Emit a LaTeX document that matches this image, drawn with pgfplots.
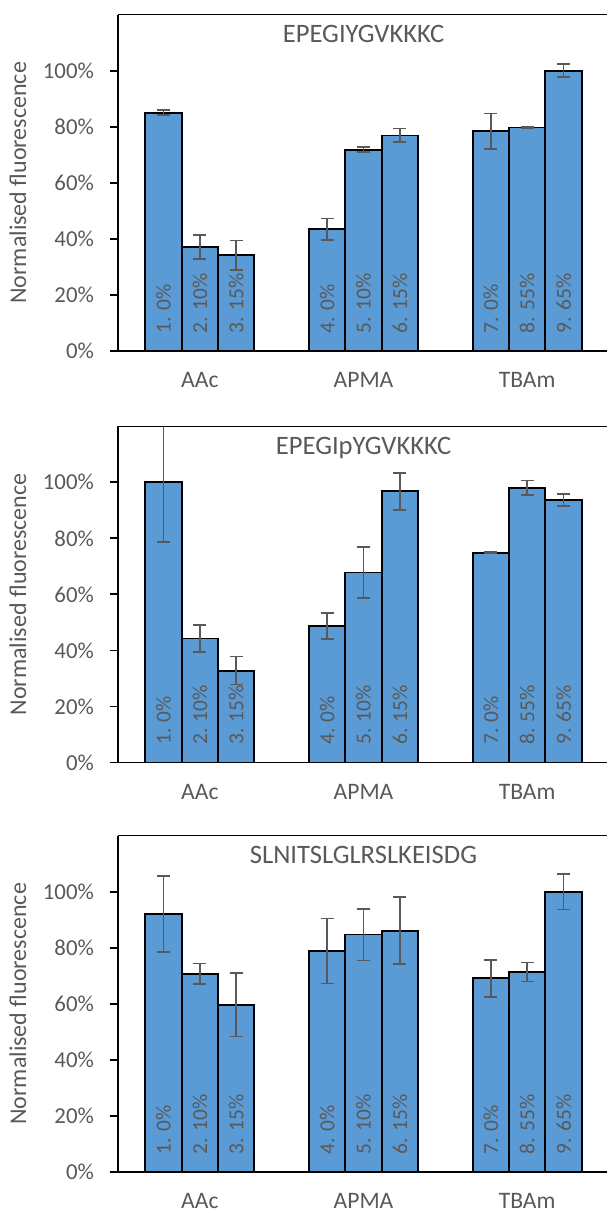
\documentclass[border=0pt]{standalone}
\usepackage{pgfplots}
\pgfplotsset{compat=1.18}
\usepackage{pgfplotstable}
\usepackage{fontspec}
\setmainfont{Carlito}
\definecolor{txtgrey}{HTML}{595959}
\definecolor{barblue}{HTML}{5B9BD5}

% x = bar centre (category units), y = value (%), err = error
\pgfplotstableread{
x y err
0.2778 85.0 0.9
0.5000 37.1 4.2
0.7222 34.1 5.3
1.2778 43.4 3.8
1.5000 71.8 0.9
1.7222 76.9 2.4
2.2778 78.4 6.3
2.5000 79.7 0.3
2.7222 100.0 2.3
}\dataA
\pgfplotstableread{
x y err
0.2778 100.0 21.3
0.5000 44.3 4.8
0.7222 32.8 5.0
1.2778 48.7 4.7
1.5000 67.8 9.0
1.7222 96.8 6.6
2.2778 74.9 0.3
2.5000 98.0 2.6
2.7222 93.7 2.2
}\dataB
\pgfplotstableread{
x y err
0.2778 92.0 13.5
0.5000 70.7 3.7
0.7222 59.6 11.3
1.2778 78.8 11.6
1.5000 84.7 9.2
1.7222 86.1 12.0
2.2778 69.1 6.6
2.5000 71.4 3.4
2.7222 100.0 6.4
}\dataC

% plot box runs from x=118px to the right edge of the picture (frame cut off there)
\pgfplotsset{panel/.style={
  scale only axis, width=244.5pt, height=168.2pt,
  anchor=south west,
  xmin=0, xmax=2.9878, ymin=0, ymax=120,
  axis x line*=bottom, axis y line*=left,
  axis line style={black, line width=0.9pt},
  xtick={0.5,1.5,2.5}, xticklabels={AAc,APMA,TBAm},
  x tick style={draw=none},
  xticklabel style={anchor=base, inner sep=0pt, text depth=0pt, yshift=-14.4pt, font=\fontsize{11.8}{14}\selectfont, text=txtgrey},
  ytick={0,20,...,100},
  yticklabel={\pgfmathprintnumber{\tick}\%},
  /pgf/number format/assume math mode=true,
  tick align=outside, major tick length=4pt,
  y tick style={black, line width=0.9pt},
  yticklabel style={anchor=east, inner sep=0pt, xshift=-7.85pt, font=\fontsize{11.4}{14}\selectfont, text=txtgrey},
  ylabel={Normalised fluorescence},
  ylabel style={at={(axis description cs:-0.2045,0.5)}, anchor=center, font=\fontsize{12}{14}\selectfont, text=txtgrey},
}}
\pgfplotsset{bars/.style={
  ybar, bar width=0.2222, fill=barblue, draw=black, line width=0.9pt,
  error bars/.cd, y dir=both, y explicit,
  error bar style={txtgrey, line width=0.8pt},
  error mark options={rotate=90, mark size=3.2pt, txtgrey, line width=0.8pt},
}}
\newcommand{\barlabels}{%
  \node[rotate=90, anchor=west, inner sep=0pt, font=\fontsize{10.7}{12}\selectfont, text=txtgrey] at (axis cs:0.2778,6.2) {1. 0\%};
  \node[rotate=90, anchor=west, inner sep=0pt, font=\fontsize{10.7}{12}\selectfont, text=txtgrey] at (axis cs:0.5000,6.2) {2. 10\%};
  \node[rotate=90, anchor=west, inner sep=0pt, font=\fontsize{10.7}{12}\selectfont, text=txtgrey] at (axis cs:0.7222,6.2) {3. 15\%};
  \node[rotate=90, anchor=west, inner sep=0pt, font=\fontsize{10.7}{12}\selectfont, text=txtgrey] at (axis cs:1.2778,6.2) {4. 0\%};
  \node[rotate=90, anchor=west, inner sep=0pt, font=\fontsize{10.7}{12}\selectfont, text=txtgrey] at (axis cs:1.5000,6.2) {5. 10\%};
  \node[rotate=90, anchor=west, inner sep=0pt, font=\fontsize{10.7}{12}\selectfont, text=txtgrey] at (axis cs:1.7222,6.2) {6. 15\%};
  \node[rotate=90, anchor=west, inner sep=0pt, font=\fontsize{10.7}{12}\selectfont, text=txtgrey] at (axis cs:2.2778,6.2) {7. 0\%};
  \node[rotate=90, anchor=west, inner sep=0pt, font=\fontsize{10.7}{12}\selectfont, text=txtgrey] at (axis cs:2.5000,6.2) {8. 55\%};
  \node[rotate=90, anchor=west, inner sep=0pt, font=\fontsize{10.7}{12}\selectfont, text=txtgrey] at (axis cs:2.7222,6.2) {9. 65\%};
}
\newcommand{\paneltitle}[1]{%
  \draw[black, line width=0.9pt] (rel axis cs:0,1) -- (rel axis cs:1,1);
  \node[anchor=base, yshift=-14.2pt, font=\fontsize{13.3}{16}\selectfont, text=txtgrey] at (axis cs:1.5,120) {#1};
}

\begin{document}
\begin{tikzpicture}
\path (0,0) rectangle (303.5pt,606.5pt);

\begin{axis}[panel, at={(59pt,431pt)}]
\addplot[bars] table[x=x, y=y, y error=err] {\dataA};
\barlabels
\paneltitle{EPEGIYGVKKKC}
\end{axis}

\begin{axis}[panel, at={(59pt,225.2pt)}]
\addplot[bars] table[x=x, y=y, y error=err] {\dataB};
\barlabels
\paneltitle{EPEGIpYGVKKKC}
\end{axis}

\begin{axis}[panel, at={(59pt,20.5pt)}]
\addplot[bars] table[x=x, y=y, y error=err] {\dataC};
\barlabels
\paneltitle{SLNITSLGLRSLKEISDG}
\end{axis}
\end{tikzpicture}
\end{document}
